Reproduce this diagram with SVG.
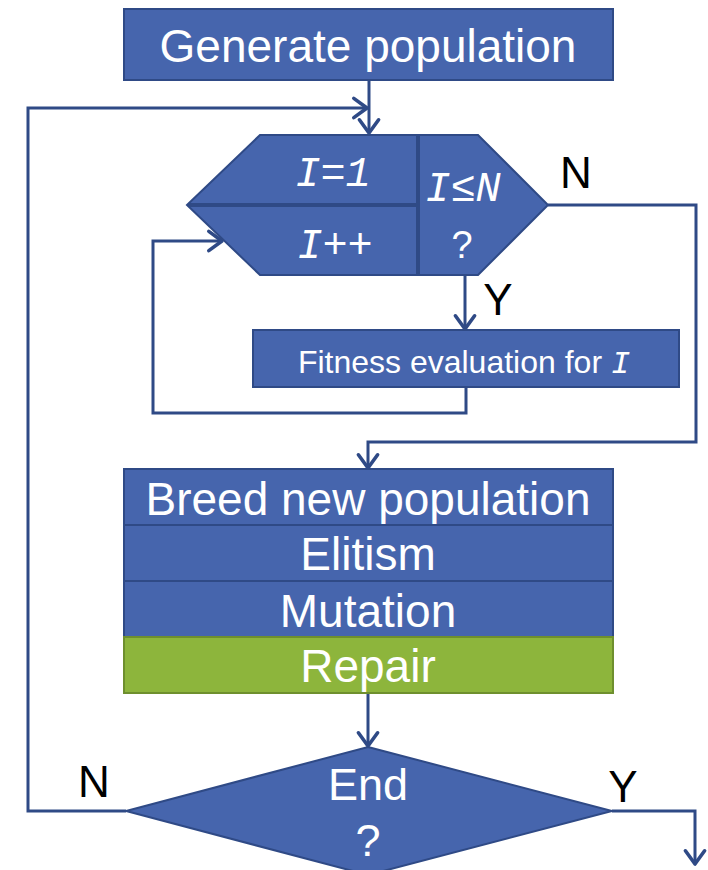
<svg xmlns="http://www.w3.org/2000/svg" width="708" height="870" viewBox="0 0 708 870">
<style>
.box{fill:#4665ad;stroke:#2f4a86;stroke-width:2}
.green{fill:#8db53c;stroke:#6e8f2e;stroke-width:2}
.t{font-family:"Liberation Sans",Arial,sans-serif;fill:#fff;text-anchor:middle}
.m{font-family:"Liberation Mono","Courier New",monospace;font-style:italic;fill:#fff;text-anchor:middle}
.lbl{font-family:"Liberation Sans",Arial,sans-serif;fill:#000;text-anchor:middle;font-size:44px}
.c{fill:none;stroke:#2f4a86;stroke-width:3;marker-end:url(#ah)}
.div{stroke:#2f4a86;stroke-width:4}
</style>
<defs>
<marker id="ah" markerUnits="userSpaceOnUse" markerWidth="24" markerHeight="24" refX="0" refY="0" viewBox="-14 -10 16 20" orient="auto" overflow="visible">
<path d="M-11,-8 L0,0 L-11,8" fill="none" stroke="#2f4a86" stroke-width="3" stroke-linecap="round" stroke-linejoin="round"/>
</marker>
</defs>
<g id="connectors">
<path class="c" d="M369,80 V133"/>
<path class="c" d="M126,811 H28 V108 H367"/>
<path class="c" d="M465,275 V329"/>
<path class="c" d="M466,387 V413 H153 V241 H222"/>
<path class="c" d="M548,205 H696 V442 H368 V468"/>
<path class="c" d="M368,693 V746"/>
<path class="c" d="M612,811 H695 V864"/>
</g>
<g id="generate">
<rect class="box" x="124" y="9" width="489" height="71"/>
<text class="t" x="368" y="62" font-size="46">Generate population</text>
</g>
<g id="loop">
<polygon class="box" points="187,205 260,135 478,135 548,205 478,275 260,275"/>
<line class="div" x1="418" y1="135" x2="418" y2="275"/>
<line class="div" x1="188" y1="205" x2="418" y2="205"/>
<text class="m" x="333" y="186" font-size="42" font-weight="normal">I=1</text>
<text class="m" x="335" y="258" font-size="42">I++</text>
<text class="m" x="463" y="201" font-size="42">I≤N</text>
<text class="t" x="462" y="258" font-size="38">?</text>
</g>
<g id="fitness">
<rect class="box" x="253" y="330" width="426" height="57"/>
<text class="t" x="464" y="373" font-size="32">Fitness evaluation for <tspan class="m" style="font-size:32px">I</tspan></text>
</g>
<g id="breed">
<rect class="box" x="124" y="469" width="489" height="56"/>
<text class="t" x="368" y="515" font-size="46">Breed new population</text>
</g>
<g id="elitism">
<rect class="box" x="124" y="525" width="489" height="56"/>
<text class="t" x="368" y="570" font-size="46">Elitism</text>
</g>
<g id="mutation">
<rect class="box" x="124" y="581" width="489" height="56"/>
<text class="t" x="368" y="627" font-size="46">Mutation</text>
</g>
<g id="repair">
<rect class="green" x="124" y="637" width="489" height="56"/>
<text class="t" x="368" y="682" font-size="46">Repair</text>
</g>
<g id="end">
<polygon class="box" points="368,747 612,811 368,875 126,811"/>
<text class="t" x="368" y="800" font-size="45">End</text>
<text class="t" x="368" y="856" font-size="45">?</text>
</g>
<g id="labels">
<text class="lbl" x="576" y="188">N</text>
<text class="lbl" x="498" y="315">Y</text>
<text class="lbl" x="94" y="797">N</text>
<text class="lbl" x="623" y="802">Y</text>
</g>
</svg>
